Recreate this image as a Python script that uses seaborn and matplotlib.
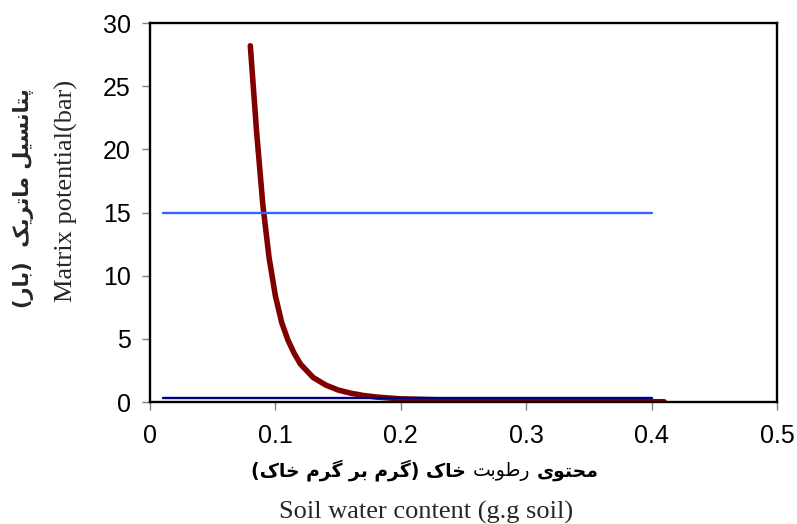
import numpy as np
import pandas as pd
import matplotlib
matplotlib.use("Agg")
import matplotlib.pyplot as plt
from matplotlib.offsetbox import TextArea, HPacker, AnchoredOffsetbox
import seaborn as sns

# data
water = [0.08, 0.085, 0.09, 0.095, 0.10, 0.105, 0.11, 0.115, 0.12, 0.13,
         0.14, 0.15, 0.16, 0.17, 0.18, 0.19, 0.20, 0.25, 0.30, 0.35, 0.41]
potential = [28.2, 21.4, 15.6, 11.4, 8.4, 6.3, 4.9, 3.85, 3.0, 1.95,
             1.35, 0.95, 0.7, 0.52, 0.4, 0.32, 0.25, 0.12, 0.07, 0.04, 0.02]
wilting_x = [0.01, 0.40]
wilting_y = [15, 15]
field_x = [0.01, 0.40]
field_y = [0.33, 0.33]

xticks = [0, 0.1, 0.2, 0.3, 0.4, 0.5]
xticklabels = ['0', '0.1', '0.2', '0.3', '0.4', '0.5']
yticks = [0, 5, 10, 15, 20, 25, 30]

# minimal Persian shaping (matplotlib has no text shaping)
FORMS = {
    'ا': ('\uFE8D', '\uFE8E', None, None),
    'ب': ('\uFE8F', '\uFE90', '\uFE91', '\uFE92'),
    'پ': ('\uFB56', '\uFB57', '\uFB58', '\uFB59'),
    'ت': ('\uFE95', '\uFE96', '\uFE97', '\uFE98'),
    'ح': ('\uFEA1', '\uFEA2', '\uFEA3', '\uFEA4'),
    'خ': ('\uFEA5', '\uFEA6', '\uFEA7', '\uFEA8'),
    'ر': ('\uFEAD', '\uFEAE', None, None),
    'س': ('\uFEB1', '\uFEB2', '\uFEB3', '\uFEB4'),
    'ط': ('\uFEC1', '\uFEC2', '\uFEC3', '\uFEC4'),
    'ک': ('\uFB8E', '\uFB8F', '\uFB90', '\uFB91'),
    'گ': ('\uFB92', '\uFB93', '\uFB94', '\uFB95'),
    'ل': ('\uFEDD', '\uFEDE', '\uFEDF', '\uFEE0'),
    'م': ('\uFEE1', '\uFEE2', '\uFEE3', '\uFEE4'),
    'ن': ('\uFEE5', '\uFEE6', '\uFEE7', '\uFEE8'),
    'و': ('\uFEED', '\uFEEE', None, None),
    'ی': ('\uFBFC', '\uFBFD', '\uFBFE', '\uFBFF'),
}


def fa(s):
    out = []
    for i, ch in enumerate(s):
        if ch not in FORMS:
            out.append(ch)
            continue
        prev = s[i - 1] if i > 0 else ''
        nxt = s[i + 1] if i + 1 < len(s) else ''
        jp = prev in FORMS and FORMS[prev][2] is not None
        jn = FORMS[ch][2] is not None and nxt in FORMS
        iso, fin, ini, med = FORMS[ch]
        out.append(med if (jp and jn) else fin if jp else ini if jn else iso)
    vis = ''.join(reversed(out))
    return vis.translate(str.maketrans('()', ')('))


sns.set_style("white")
plt.rcParams['font.family'] = ['Liberation Sans', 'DejaVu Sans']

fig = plt.figure(figsize=(7.97, 5.24), dpi=100)
ax = fig.add_axes([0.1882, 0.2328, 0.7867, 0.7233])

sns.lineplot(x=water, y=potential, ax=ax, color='#800000', lw=4,
             estimator=None, sort=False, solid_capstyle='round')
sns.lineplot(x=field_x, y=field_y, ax=ax, color='#000080', lw=1.7,
             estimator=None, sort=False)
sns.lineplot(x=wilting_x, y=wilting_y, ax=ax, color='#3366ff', lw=1.7,
             estimator=None, sort=False)

ax.set_xlim(0, 0.5)
ax.set_ylim(0, 30)
ax.set_xticks(xticks)
ax.set_xticklabels(xticklabels)
ax.set_yticks(yticks)
ax.tick_params(axis='both', direction='out', length=6, width=1,
               color='#808080', labelsize=18, labelcolor='black',
               bottom=True, left=True)
ax.tick_params(axis='x', pad=10)
ax.tick_params(axis='y', pad=8)
for sp in ax.spines.values():
    sp.set_color('black')
    sp.set_linewidth(1.7)
ax.set_xlabel('')
ax.set_ylabel('')

# y axis labels
fig.text(0.030, 1 - 308 / 524, fa('پتانسیل ماتریک  (بار)'), rotation=90,
         ha='center', va='bottom', family='DejaVu Sans', weight='bold', size=15)
fig.text(0.084, 1 - 80 / 524, 'Matrix potential(bar)', rotation=90,
         ha='center', va='top', family='Liberation Serif', size=19)

# x axis labels
bold = dict(family='DejaVu Sans', weight='bold', size=13.5, color='black')
norm = dict(family='DejaVu Sans', size=13.5, color='black')
pieces = [TextArea(fa('خاک (گرم بر گرم خاک)'), textprops=bold),
          TextArea(fa('رطوبت'), textprops=norm),
          TextArea(fa('محتوی'), textprops=bold)]
box = AnchoredOffsetbox(loc='center', child=HPacker(children=pieces, sep=5, pad=0, align='baseline'),
                        frameon=False, pad=0, borderpad=0,
                        bbox_to_anchor=(0.533, 0.103), bbox_transform=fig.transFigure)
fig.add_artist(box)
fig.text(0.535, 0.022, 'Soil water content (g.g soil)', ha='center', va='center',
         family='Liberation Serif', size=19)

fig.savefig('out.png', dpi=100, facecolor='white')
